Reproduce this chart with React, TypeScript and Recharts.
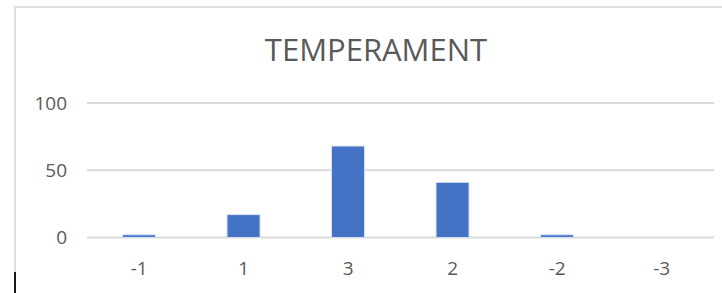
import React from "react";
import { BarChart, Bar, XAxis, YAxis, CartesianGrid } from "recharts";

const categories = ["-1", "1", "3", "2", "-2", "-3"];
const counts = [2, 17, 68, 41, 2, 0];
const yTicks = [0, 50, 100];
const title = "TEMPERAMENT";

const data = categories.map((c, i) => ({ name: c, value: counts[i] }));

export default function App() {
  return (
    <div style={{ position: "absolute", left: 0, top: 0, width: 722, height: 293, overflow: "hidden", background: "#fff" }}>
      <div style={{ position: "absolute", left: 14, top: 6, width: 720, height: 300, borderTop: "2px solid #dedede", borderLeft: "2px solid #dedede" }} />
      <div style={{ position: "absolute", left: 14, top: 272, width: 2, height: 21, background: "#1a1a1a" }} />
      <div style={{ position: "absolute", left: 0, top: 27, width: 752, textAlign: "center", fontFamily: "'Open Sans', sans-serif", fontSize: 31, color: "#595959", lineHeight: "44px" }}>
        {title}
      </div>
      <div style={{ position: "absolute", left: 0, top: 0 }}>
        <BarChart width={722} height={293} data={data} margin={{ top: 103, right: 8, left: 0, bottom: 0 }} barCategoryGap="34%">
          <CartesianGrid vertical={false} stroke="#d9d9d9" strokeWidth={2} />
          <XAxis dataKey="name" axisLine={false} tickLine={false} tickSize={0} tickMargin={24} height={55.5}
            tick={{ fill: "#595959", fontSize: 19, fontFamily: "'Open Sans', sans-serif" }} />
          <YAxis domain={[0, 100]} ticks={yTicks} axisLine={false} tickLine={false} tickSize={0} tickMargin={20} width={87}
            tick={{ fill: "#595959", fontSize: 19, fontFamily: "'Open Sans', sans-serif" }} />
          <Bar dataKey="value" fill="#4472c4" stroke="#d6e0f3" strokeWidth={1} isAnimationActive={false} />
        </BarChart>
      </div>
    </div>
  );
}
